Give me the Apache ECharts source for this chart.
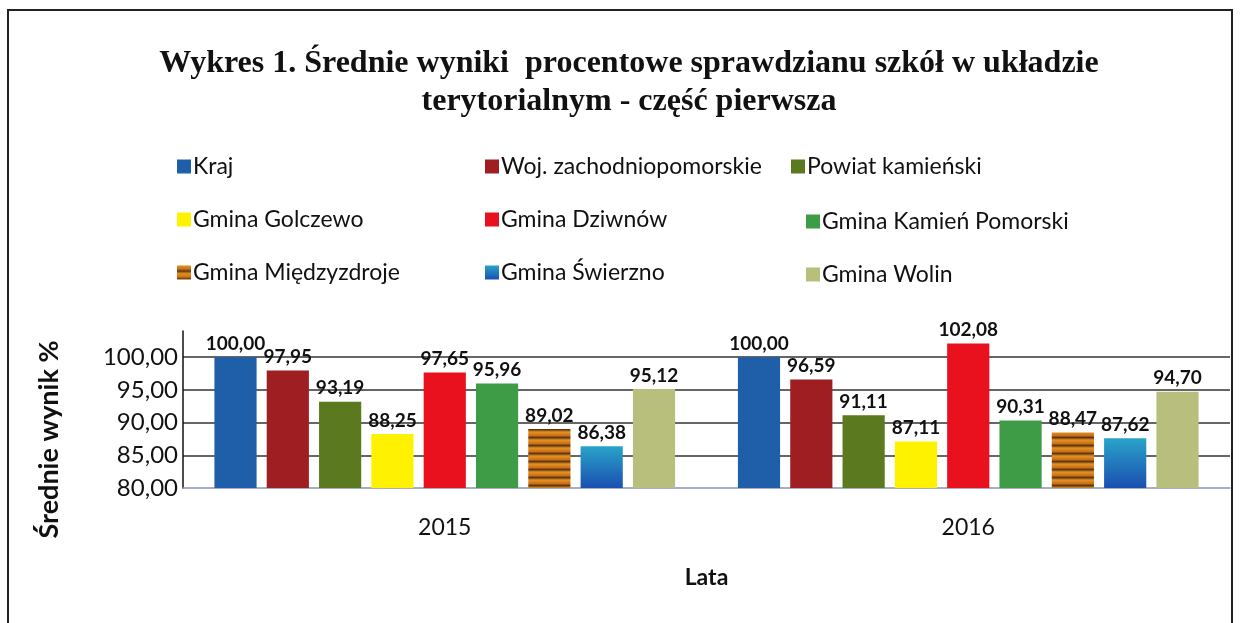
<!DOCTYPE html>
<html>
<head>
<meta charset="utf-8">
<script src="https://cdn.jsdelivr.net/npm/echarts@6/dist/echarts.min.js"></script>
<style>
    html, body { margin: 0; padding: 0; background: #fff; }
    #chart { width: 1243px; height: 623px; }
</style>
</head>
<body>
<div id="chart"></div>
<script>
var years = ['2015', '2016'];
var units = ['Kraj', 'Woj. zachodniopomorskie', 'Powiat kamieński', 'Gmina Golczewo', 'Gmina Dziwnów',
    'Gmina Kamień Pomorski', 'Gmina Międzyzdroje', 'Gmina Świerzno', 'Gmina Wolin'];
var kraj = [100.00, 100.00];
var woj = [97.95, 96.59];
var powiat = [93.19, 91.11];
var golczewo = [88.25, 87.11];
var dziwnow = [97.65, 102.08];
var kamien = [95.96, 90.31];
var miedzyzdroje = [89.02, 88.47];
var swierzno = [86.38, 87.62];
var wolin = [95.12, 94.70];
var gridValues = [85, 90, 95, 100];

// striped fill for Międzyzdroje
var stripes = document.createElement('canvas');
stripes.width = 8;
stripes.height = 8;
var sctx = stripes.getContext('2d');
var sg = sctx.createLinearGradient(0, 0, 0, 8);
sg.addColorStop(0, '#e8921e');
sg.addColorStop(0.45, '#c8701a');
sg.addColorStop(0.7, '#5a3410');
sg.addColorStop(1, '#e8921e');
sctx.fillStyle = sg;
sctx.fillRect(0, 0, 8, 8);

var colors = [
    '#1f5ea8',
    '#9e1e22',
    '#5b7a1f',
    '#fff200',
    '#e8111d',
    '#3d9c45',
    { image: stripes, repeat: 'repeat' },
    new echarts.graphic.LinearGradient(0, 0, 0, 1, [
        { offset: 0, color: '#2aa3c9' },
        { offset: 1, color: '#1a4fb0' }
    ]),
    '#b8be7c'
];
var values = [kraj, woj, powiat, golczewo, dziwnow, kamien, miedzyzdroje, swierzno, wolin];

function fmt(v) {
    return v.toFixed(2).replace('.', ',');
}

var series = units.map(function(name, i) {
    var s = {
        name: name,
        type: 'bar',
        data: values[i],
        barGap: '24%',
        barCategoryGap: '12%',
        itemStyle: { color: colors[i] },
        label: {
            show: true,
            position: 'top',
            distance: 4,
            color: '#111',
            fontFamily: 'Lato',
            fontWeight: 'bold',
            fontSize: 19,
            formatter: function(p) { return fmt(p.value); }
        }
    };
    if (i === 0) {
        s.markLine = {
            silent: true,
            symbol: 'none',
            label: { show: false },
            lineStyle: { color: '#333', type: 'solid', width: 1.5 },
            data: gridValues.map(function(g) { return { yAxis: g }; }),
            z: 0
        };
        s.z = 3;
    }
    return s;
});

function legendCol(idx, left, top) {
    return {
        orient: 'vertical',
        left: left,
        top: top,
        itemGap: 30,
        itemWidth: 14,
        itemHeight: 14,
        icon: 'rect',
        textStyle: { fontFamily: 'Lato', fontSize: 23, color: '#111', padding: [0, 0, 0, -3] },
        data: idx.map(function(k) { return units[k]; })
    };
}

var chart = echarts.init(document.getElementById('chart'));
chart.setOption({
    animation: false,
    title: {
        text: 'Wykres 1. Średnie wyniki  procentowe sprawdzianu szkół w układzie\nterytorialnym - część pierwsza',
        left: 624,
        top: 40,
        textAlign: 'center',
        textStyle: {
            fontFamily: 'Liberation Serif',
            fontWeight: 'bold',
            fontSize: 32,
            lineHeight: 38,
            color: '#111'
        }
    },
    legend: [
        legendCol([0, 3, 6], 172, 150),
        legendCol([1, 4, 7], 480, 150),
        legendCol([2], 786, 150),
        legendCol([5, 8], 801, 205)
    ],
    grid: {
        left: 183,
        right: 13,
        top: 331,
        bottom: 135
    },
    xAxis: {
        type: 'category',
        data: years,
        axisLine: { show: true, lineStyle: { color: '#8a94b8', width: 1.5 } },
        axisTick: { show: false },
        axisLabel: { fontFamily: 'Lato', fontSize: 23, color: '#111', margin: 28 },
        name: 'Lata',
        nameLocation: 'middle',
        nameGap: 78,
        nameTextStyle: { fontFamily: 'Lato', fontWeight: 'bold', fontSize: 23, color: '#111' }
    },
    yAxis: {
        type: 'value',
        min: 80,
        max: 104,
        interval: 5,
        splitLine: { show: false },
        axisLine: { show: true, lineStyle: { color: '#111', width: 1.5 } },
        axisTick: { show: false },
        axisLabel: {
            fontFamily: 'Lato',
            fontSize: 24,
            color: '#111',
            margin: 5,
            formatter: function(v) { return v > 100 ? '' : fmt(v); }
        },
        name: 'Średnie wynik %',
        nameLocation: 'middle',
        nameGap: 120,
        nameTextStyle: {
            fontFamily: 'Lato',
            fontWeight: 'bold',
            fontSize: 27,
            color: '#111',
            padding: [0, 60, 0, 0]
        }
    },
    graphic: [{
        type: 'rect',
        shape: { x: 8, y: 10, width: 1224, height: 700 },
        style: { fill: 'none', stroke: '#222', lineWidth: 2 },
        silent: true
    }],
    series: series
});
</script>
</body>
</html>
